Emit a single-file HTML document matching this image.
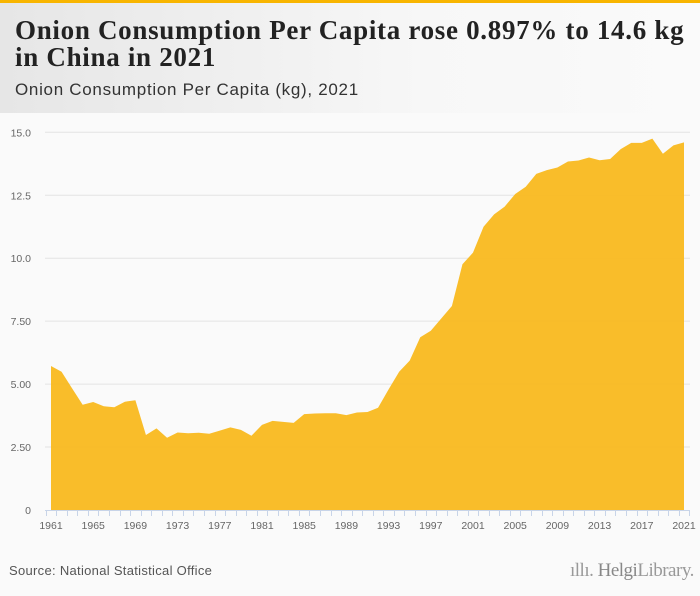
<!DOCTYPE html>
<html><head><meta charset="utf-8"><style>
html,body{margin:0;padding:0;width:700px;height:596px;overflow:hidden;background:#fafafa;font-family:"Liberation Sans",sans-serif}
#top{position:absolute;left:0;top:0;width:700px;height:3px;background:#f8b500}
#hdr{position:absolute;left:0;top:3px;width:700px;height:110px;background:linear-gradient(90deg,#e6e6e6,#f7f7f7 60%,#fafafa)}
#title{position:absolute;left:15px;top:17px;font-family:"Liberation Serif",serif;font-weight:bold;font-size:27px;line-height:27px;color:#222;letter-spacing:0.7px;white-space:nowrap}
#sub{position:absolute;left:15px;top:80px;font-size:17px;color:#333;letter-spacing:0.7px}
#src{position:absolute;left:9px;top:563px;font-size:13px;color:#555;letter-spacing:0.3px}
#logo{position:absolute;left:570px;top:560px;font-family:"Liberation Serif",serif;font-size:19px;color:#999;letter-spacing:-0.5px}
svg{position:absolute;left:0;top:0}
</style></head><body>
<div id="top"></div>
<div id="hdr"></div>
<div id="title">Onion Consumption Per Capita rose 0.897% to 14.6 kg<br>in China in 2021</div>
<div id="sub">Onion Consumption Per Capita (kg), 2021</div>
<svg id="chart" width="700" height="596"></svg>
<div id="src">Source: National Statistical Office</div>
<div id="logo">ıllı. <span style="color:#888">Helgi</span>Library.</div>
<script>
const years=[];for(let y=1961;y<=2021;y++)years.push(y);
const values=[5.72,5.49,4.83,4.18,4.29,4.12,4.08,4.30,4.36,2.98,3.24,2.87,3.08,3.05,3.07,3.03,3.15,3.28,3.18,2.95,3.38,3.54,3.50,3.46,3.81,3.83,3.84,3.84,3.77,3.87,3.89,4.06,4.79,5.49,5.93,6.86,7.12,7.61,8.10,9.76,10.22,11.25,11.74,12.05,12.55,12.84,13.35,13.50,13.60,13.84,13.88,14.0,13.89,13.94,14.33,14.58,14.58,14.75,14.15,14.48,14.6];
const yTicks=[0,2.5,5,7.5,10,12.5,15];
const yTickLabels=["0","2.50","5.00","7.50","10.0","12.5","15.0"];
const svg=document.getElementById('chart');const NS='http://www.w3.org/2000/svg';
const x=y=>51+(y-1961)*(684-51)/60;
const yy=v=>510-v*(510-132.3)/15;
function mk(t,a){const e=document.createElementNS(NS,t);for(const k in a)e.setAttribute(k,a[k]);svg.appendChild(e);return e;}
yTicks.forEach((t,i)=>{
 if(t>0){const g=mk('line',{x1:45,x2:690,y1:yy(t),y2:yy(t),stroke:'#e3e3e3','stroke-width':1});
 
 }
 const l=mk('text',{x:31,y:yy(t)+4,'text-anchor':'end','font-size':'10.5',fill:'#666','font-family':'Liberation Sans, sans-serif'});
 l.textContent=yTickLabels[i];
 
 
});
let d='M'+x(years[0])+','+yy(0);
years.forEach((y,i)=>{d+=' L'+x(y)+','+yy(values[i]);});
d+=' L'+x(years[years.length-1])+','+yy(0)+' Z';
const area=mk('path',{d:d,fill:'#f9b91f','fill-opacity':'0.95'});


const ax=mk('line',{x1:45,x2:690,y1:510.5,y2:510.5,stroke:'#c8d4e8','stroke-width':1});


for(let i=0;i<=years.length;i++){
 const tx=Math.round(x(1960.5+i))+0.5;
 const tk=mk('line',{x1:tx,x2:tx,y1:510,y2:516,stroke:'#c8d4e8','stroke-width':1});
 
 
}
years.forEach(y=>{if((y-1961)%4===0){
 const t=mk('text',{x:x(y),y:529,'text-anchor':'middle','font-size':'10.5',fill:'#666','font-family':'Liberation Sans, sans-serif'});
 t.textContent=y;
 
 
}});
</script>
</body></html>
